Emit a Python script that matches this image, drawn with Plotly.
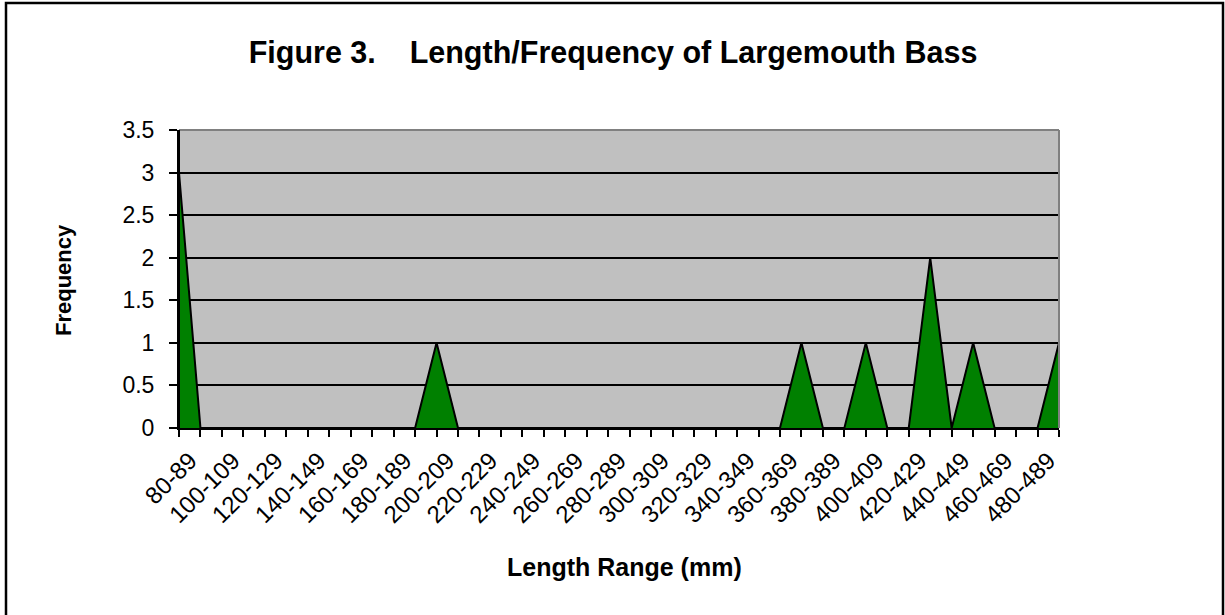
import plotly.graph_objects as go

categories = [f"{s}-{s+9}" for s in range(80, 500, 10)]
frequency = [3, 0, 0, 0, 0, 0, 0, 0, 0, 0, 0, 0, 1, 0, 0, 0, 0, 0, 0, 0, 0,
             0, 0, 0, 0, 0, 0, 0, 0, 1, 0, 0, 1, 0, 0, 2, 0, 1, 0, 0, 0, 1]
tick_labels = [c if i % 2 == 0 else "" for i, c in enumerate(categories)]

FONT = "Arial, 'Liberation Sans', sans-serif"

fig = go.Figure()
fig.add_trace(go.Scatter(
    x=categories, y=frequency, mode="lines", fill="tozeroy",
    fillcolor="#008000", line=dict(color="black", width=2),
    hoverinfo="x+y", showlegend=False,
))

W, H = 880, 298
fig.update_layout(
    width=1225, height=615,
    margin=dict(l=179, r=166, t=130, b=187),
    paper_bgcolor="white", plot_bgcolor="#C0C0C0",
    font=dict(family=FONT, color="black"),
    title=dict(text="Figure 3.\u00a0\u00a0\u00a0 Length/Frequency of Largemouth Bass",
               x=613 / 1225, xanchor="center", y=1 - 52 / 615, yanchor="middle",
               font=dict(size=30.5, family=FONT, color="black", weight="bold")),
    xaxis=dict(
        type="category", range=[0, len(categories) - 1],
        tickmode="array", tickvals=categories, ticktext=tick_labels,
        tickangle=-45, tickfont=dict(size=24), ticks="outside", ticklen=7,
        tickcolor="black", tickwidth=2, ticklabelshift=11,
        showline=True, linecolor="black", linewidth=2, showgrid=False,
        zeroline=False,
    ),
    yaxis=dict(
        range=[0, 3.5], dtick=0.5, tickfont=dict(size=23),
        ticks="outside", ticklen=8, tickcolor="black", tickwidth=2,
        ticklabelstandoff=10,
        showline=True, linecolor="black", linewidth=2,
        showgrid=True, gridcolor="black", gridwidth=2, zeroline=False,
    ),
    shapes=[
        dict(type="line", xref="paper", yref="paper", x0=0, x1=1, y0=1, y1=1,
             line=dict(color="#808080", width=2), layer="above"),
        dict(type="line", xref="paper", yref="paper", x0=1, x1=1, y0=0, y1=1,
             line=dict(color="#808080", width=2), layer="above"),
        dict(type="line", xref="paper", yref="paper", x0=0, x1=0, y0=0, y1=1,
             line=dict(color="black", width=2), layer="above"),
        dict(type="rect", xref="paper", yref="paper",
             x0=(6 - 179) / W, x1=(1223 - 179) / W, y0=-1.0, y1=(428 - 3) / H,
             line=dict(color="black", width=2.5), fillcolor="rgba(0,0,0,0)",
             layer="above"),
    ],
    annotations=[
        dict(text="Frequency", xref="paper", yref="paper",
             x=(63 - 179) / W, y=(428 - 280) / H, textangle=-90, showarrow=False,
             xanchor="center", yanchor="middle",
             font=dict(size=22, family=FONT, color="black", weight="bold")),
        dict(text="Length Range (mm)", xref="paper", yref="paper",
             x=(624 - 179) / W, y=-(567 - 428) / H, showarrow=False,
             xanchor="center", yanchor="middle",
             font=dict(size=25, family=FONT, color="black", weight="bold")),
    ],
)

fig.write_html("out.html", config={"displayModeBar": False},
               post_script="document.body.style.margin='0';")
